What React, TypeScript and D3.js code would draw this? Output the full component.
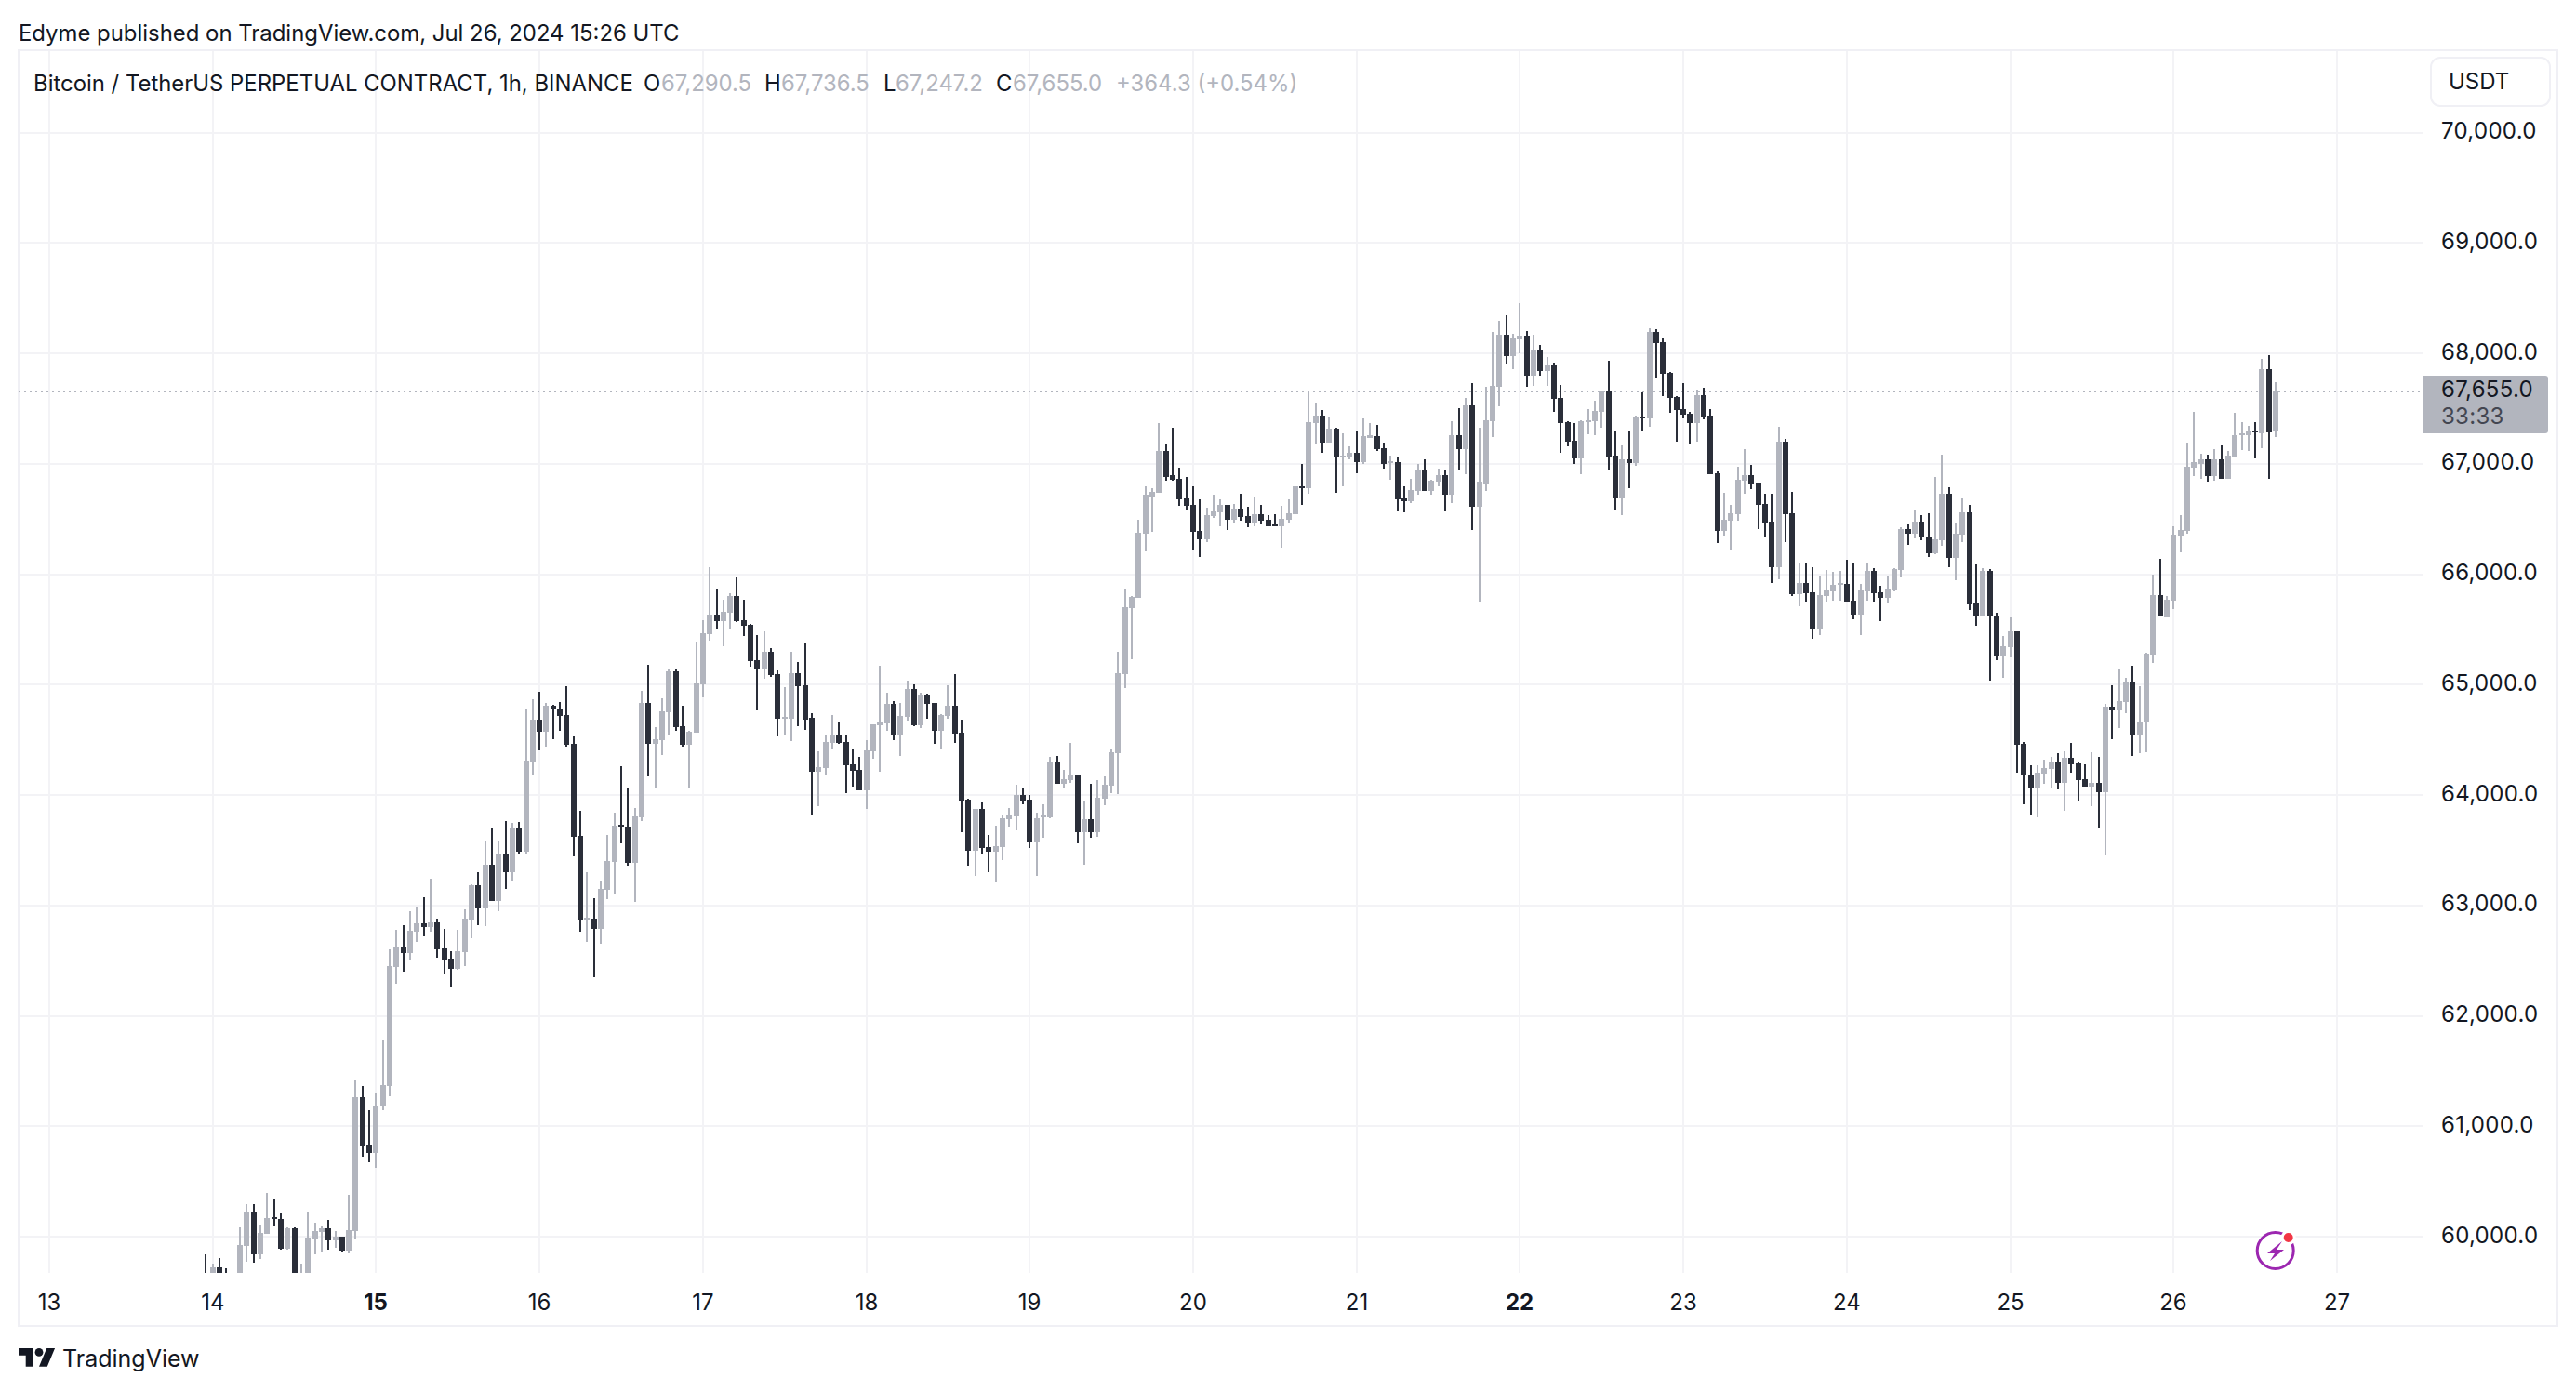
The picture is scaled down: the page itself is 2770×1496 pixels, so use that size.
import React from "react";
import * as d3 from "d3";

const WIDTH = 2770;
const HEIGHT = 1496;
const FONT = "Inter, 'Noto Sans', sans-serif";
const UP = "#b2b5be";
const DOWN = "#2a2e39";
const GRID = "#f3f3f6";
const INK = "#131722";

// hourly candles, first one is Jul 13 23:00 UTC
const firstCandle = Date.UTC(2024, 6, 13, 23);

const opens = [
  59660,59640,59719,59674,59600,59540,59916,60225,59837,60025,
  60174,60157,59888,60073,59520,59650,59980,60039,60073,59969,
  59997,59871,60048,61262,60832,60756,61177,61363,62442,62619,
  62568,62762,62838,62804,62846,62610,62518,62425,62577,62872,
  63184,62973,63367,63039,63460,63300,63696,63485,64302,64680,
  64571,64806,64781,64722,64461,63628,62871,62879,62787,63140,
  63393,63729,63712,63384,63797,64832,64461,64495,64748,65118,
  64621,64453,64562,65000,65454,65637,65578,65654,65806,65587,
  65539,65219,65135,65294,65093,64689,64689,65101,64992,64697,
  64209,64243,64470,64548,64480,64278,64228,64042,64396,64632,
  64649,64826,64540,64708,64961,64632,64910,64835,64582,64717,
  64809,64565,63958,63494,63874,63528,63486,63528,63781,63806,
  64000,63958,63570,63798,63798,64295,64101,64135,64185,63663,
  63781,63663,63966,64084,64379,65096,65694,65789,66371,66708,
  66742,67113,66894,66868,66691,66632,66396,66320,66531,66565,
  66632,66497,66599,66531,66464,66548,66497,66455,66438,66497,
  66548,66801,66776,67366,67433,67189,67315,67062,67062,67096,
  67020,67239,67248,67146,67012,67020,66691,66666,66759,66944,
  66759,66843,66894,66725,67256,67130,67526,66615,66826,67388,
  67700,68172,67978,68130,68163,67801,68037,67843,67894,67599,
  67379,67211,67051,67379,67388,67472,67658,67076,66688,67042,
  67008,67430,67413,68197,68104,67826,67607,67497,67455,67371,
  67624,67438,66916,66393,66486,66545,66848,66899,66831,66638,
  66477,66064,67202,66553,65820,65924,65840,65511,65806,65848,
  65907,65916,65764,65638,65848,66034,65840,65789,65865,66042,
  66413,66371,66481,66346,66194,66312,66733,66152,66362,66565,
  65739,65629,66034,65629,65258,65342,65486,64466,64188,64070,
  64196,64238,64306,64112,64339,64289,64145,64078,64112,64027,
  64803,64769,64845,65031,64542,64664,65270,65813,65606,65765,
  66352,66395,66966,67003,67040,66890,67040,66865,67067,67257,
  67257,67303,67275,67856,67290,
];

const highs = [
  59843,59758,59809,59716,59640,60081,60292,60292,60098,60393,
  60334,60208,60087,60081,59753,60216,60124,60090,60149,60048,
  59997,60377,61413,61363,61144,61295,61784,62602,62779,62821,
  62948,62981,63074,63243,62880,62787,62585,62779,62964,63192,
  63302,63578,63696,63586,63769,63746,63755,64773,64865,64933,
  64832,64815,64840,64983,64529,63855,63300,63065,63224,63637,
  63839,64259,64066,63881,64941,65177,64613,64874,65143,65143,
  64806,64579,65387,65581,66060,65874,65772,65831,65975,65772,
  65553,65452,65486,65328,65126,64975,65294,65202,65379,64739,
  64394,64537,64722,64658,64540,64413,64346,64497,64641,65172,
  64927,64851,64835,65037,65003,64927,64919,64835,64733,64995,
  65096,64683,63966,63874,63933,63638,63722,63823,63882,64093,
  64059,64000,63840,63916,64346,64354,64228,64472,64185,63949,
  64101,64135,64169,64413,65298,65871,65804,66497,66801,66776,
  67366,67180,67324,66969,66885,66801,66683,66607,66725,66683,
  66632,66641,66733,66615,66700,66632,66540,66548,66624,66683,
  66801,67003,67652,67551,67484,67416,67324,67273,67155,67298,
  67408,67366,67349,67197,67079,67062,66801,66868,66995,67045,
  66860,66961,66936,67383,67501,67593,67728,67324,67700,68197,
  68298,68349,68180,68458,68205,68172,68079,67969,67919,67717,
  67388,67371,67396,67497,67573,67658,67936,67295,67169,67295,
  67438,67649,68231,68222,68146,67835,67615,67733,67472,67674,
  67691,67497,66933,66739,66629,66975,67135,66992,66831,66730,
  66730,67337,67228,66747,66101,66110,66067,65992,66042,66025,
  66034,66135,66101,65916,66101,66059,65899,65983,66059,66430,
  66455,66590,66540,66556,66885,67087,66792,66472,66691,66632,
  66093,66059,66051,65654,65444,65612,65486,64483,64272,64272,
  64322,64348,64381,64398,64474,64297,64280,64390,64348,64828,
  64997,65149,65064,65174,64988,65291,65997,66141,65804,66434,
  66535,67193,67471,67092,67083,67135,67168,67116,67462,67376,
  67342,67376,67948,67982,67737,
];

const lows = [
  59500,59600,59660,59500,59420,59480,59772,59764,59795,60022,
  60090,59879,59879,59460,59480,59620,59837,59854,59879,59896,
  59865,59845,59980,60722,60672,60621,61144,61270,62290,62400,
  62501,62669,62720,62762,62526,62374,62265,62417,62450,62703,
  62821,62813,63037,62947,63149,63216,63460,63460,64184,64402,
  64436,64503,64579,64436,63443,62762,62669,62349,62652,63056,
  63107,63561,63359,63031,63763,64167,64066,64360,64545,64579,
  64436,64058,64562,64882,65395,65503,65351,65511,65570,65444,
  65160,64764,65050,65067,64529,64537,64486,64621,64587,63822,
  63898,64184,64411,64464,64017,64076,64042,63874,64329,64211,
  64582,64497,64354,64674,64624,64607,64691,64464,64413,64691,
  64472,63663,63359,63267,63460,63300,63208,63410,63713,63680,
  63916,63519,63267,63612,63789,64101,64059,64110,63562,63368,
  63612,63621,63907,64017,64008,64969,65231,65789,66211,66388,
  66742,66851,66851,66624,66590,66228,66160,66295,66514,66438,
  66405,66472,66489,66430,66438,66455,66438,66438,66244,66472,
  66548,66632,66733,67180,67104,67189,66742,66801,67045,66919,
  67003,67231,67113,66961,66860,66573,66565,66649,66725,66759,
  66717,66801,66573,66649,66944,66910,66405,65756,66756,67244,
  67523,67902,67860,68003,67700,67708,67801,67708,67472,67101,
  67160,67000,66907,67270,67261,67329,66949,66578,66536,66781,
  66983,67295,67337,67784,67615,67464,67202,67413,67177,67202,
  67405,66907,66283,66351,66216,66486,66730,66772,66410,66342,
  65921,65955,66292,65803,65713,65756,65418,65452,65756,65764,
  65764,65756,65595,65452,65764,65756,65578,65739,65848,65975,
  66270,66329,66312,66160,66185,66261,66067,65949,66295,65680,
  65536,65629,65039,65224,65064,65250,64204,63918,63825,63800,
  64103,64070,64053,63859,64204,63951,64078,63901,63707,63454,
  64508,64609,64744,64356,64376,64391,65193,65615,65606,65688,
  66196,66364,66890,66865,66838,66847,66865,66865,67058,67125,
  67116,67049,67141,66865,67247,
];

const closes = [
  59640,59719,59671,59600,59540,59921,60225,59840,60031,60166,
  60160,59888,60073,59520,59650,59989,60048,60073,59963,59997,
  59871,60056,61262,60823,60756,61186,61371,62450,62619,62568,
  62771,62838,62804,62846,62602,62509,62425,62585,62880,63184,
  62973,63369,63039,63460,63300,63696,63485,64310,64680,64571,
  64806,64773,64714,64453,63620,62871,62888,62787,63149,63401,
  63721,63712,63384,63805,64832,64461,64503,64756,65118,64613,
  64453,64571,65008,65463,65631,65578,65663,65806,65578,65536,
  65210,65135,65294,65084,64689,64705,65101,64983,64680,64209,
  64251,64478,64545,64472,64270,64219,64042,64405,64641,64658,
  64826,64540,64717,64961,64632,64910,64826,64582,64725,64809,
  64556,63949,63494,63874,63520,63486,63536,63789,63815,64000,
  63949,63570,63789,63815,64295,64101,64143,64185,63663,63781,
  63663,63975,64093,64388,65104,65703,65796,66379,66717,66750,
  67113,66885,66860,66683,66624,66388,66320,66540,66573,66632,
  66497,66599,66523,66464,66548,66489,66438,66438,66506,66556,
  66801,66776,67374,67433,67189,67315,67054,67079,67096,67020,
  67248,67256,67138,67003,67028,66683,66666,66767,66944,66759,
  66851,66894,66725,67256,67130,67526,66615,66835,67396,67708,
  68172,67978,68138,68163,67801,68037,67843,67894,67590,67371,
  67202,67051,67388,67396,67480,67658,67067,66688,67042,67008,
  67430,67421,68197,68096,67818,67599,67489,67447,67371,67624,
  67430,66907,66393,66494,66553,66857,66899,66823,66629,66469,
  66064,67202,66545,65820,65924,65831,65511,65815,65857,65907,
  65924,65756,65638,65857,66034,65831,65789,65874,66051,66413,
  66371,66481,66337,66194,66320,66733,66152,66371,66565,65730,
  65629,66034,65621,65258,65351,65486,64457,64179,64070,64204,
  64247,64306,64112,64339,64280,64137,64078,64112,64027,64803,
  64769,64854,65031,64542,64670,65278,65813,65615,65771,66361,
  66401,66972,67015,67040,66890,67040,66865,67073,67260,67275,
  67294,67284,67856,67284,67655,
];

const priceTicks = [60000, 61000, 62000, 63000, 64000, 65000, 66000, 67000, 68000, 69000, 70000];
const dayTicks = [13, 14, 15, 16, 17, 18, 19, 20, 21, 22, 23, 24, 25, 26, 27];
const boldDays = [15, 22];
const lastPrice = 67655;
const countdown = "33:33";

const ohlcLegend = [
  { key: "O", value: "67,290.5", keyX: 692, valueX: 711 },
  { key: "H", value: "67,736.5", keyX: 822, valueX: 840 },
  { key: "L", value: "67,247.2", keyX: 950, valueX: 963 },
  { key: "C", value: "67,655.0", keyX: 1071, valueX: 1089 },
];

const App = () => {
  const svgRef = React.useRef<SVGSVGElement>(null);

  React.useEffect(() => {
    const svg = d3.select(svgRef.current);
    svg.selectAll("*").remove();

    const pane = { left: 20, top: 54, right: 2606, bottom: 1369 };
    const frame = { right: 2750, bottom: 1426 };

    const xScale = d3
      .scaleUtc()
      .domain([new Date(Date.UTC(2024, 6, 13)), new Date(Date.UTC(2024, 6, 27))])
      .range([53, 2513]);
    const yScale = d3.scaleLinear().domain([60000, 70000]).range([1330, 142.7]);

    const candles = opens.map((o, i) => ({
      date: new Date(firstCandle + i * 3600000),
      o,
      h: highs[i],
      l: lows[i],
      c: closes[i],
    }));

    svg
      .append("defs")
      .append("clipPath")
      .attr("id", "pane")
      .append("rect")
      .attr("x", pane.left)
      .attr("y", pane.top)
      .attr("width", pane.right - pane.left)
      .attr("height", pane.bottom - pane.top);

    svg.append("rect").attr("width", WIDTH).attr("height", HEIGHT).attr("fill", "#fff");

    // grid
    const grid = svg.append("g").attr("fill", GRID);
    grid
      .selectAll(".v")
      .data(dayTicks)
      .join("rect")
      .attr("x", (d) => Math.round(xScale(new Date(Date.UTC(2024, 6, d)))) - 1)
      .attr("y", pane.top)
      .attr("width", 2)
      .attr("height", pane.bottom - pane.top);
    grid
      .selectAll(".h")
      .data(priceTicks)
      .join("rect")
      .attr("x", pane.left)
      .attr("y", (d) => Math.round(yScale(d)) - 1)
      .attr("width", pane.right - pane.left)
      .attr("height", 2);

    // frame
    svg
      .append("rect")
      .attr("x", pane.left)
      .attr("y", pane.top)
      .attr("width", frame.right - pane.left)
      .attr("height", frame.bottom - pane.top)
      .attr("fill", "none")
      .attr("stroke", "#f0f0f5")
      .attr("stroke-width", 2);

    // last price line
    svg
      .append("line")
      .attr("x1", pane.left)
      .attr("x2", pane.right)
      .attr("y1", Math.round(yScale(lastPrice)))
      .attr("y2", Math.round(yScale(lastPrice)))
      .attr("stroke", UP)
      .attr("stroke-width", 2)
      .attr("stroke-dasharray", "2 4");

    // candles
    const candleG = svg
      .append("g")
      .attr("clip-path", "url(#pane)")
      .selectAll("g")
      .data(candles)
      .join("g")
      .attr("fill", (d) => (d.c >= d.o ? UP : DOWN));
    candleG
      .append("rect")
      .attr("x", (d) => Math.round(xScale(d.date)) - 1)
      .attr("width", 2)
      .attr("y", (d) => Math.round(yScale(d.h)))
      .attr("height", (d) => Math.max(1, Math.round(yScale(d.l)) - Math.round(yScale(d.h))));
    candleG
      .append("rect")
      .attr("x", (d) => Math.round(xScale(d.date)) - 3)
      .attr("width", 6)
      .attr("y", (d) => Math.round(yScale(Math.max(d.o, d.c))))
      .attr("height", (d) =>
        Math.max(2, Math.round(yScale(Math.min(d.o, d.c))) - Math.round(yScale(Math.max(d.o, d.c))))
      );

    const text = (x: number, y: number, s: string, size: number, fill = INK) =>
      svg
        .append("text")
        .attr("x", x)
        .attr("y", y)
        .attr("font-family", FONT)
        .attr("font-size", size)
        .attr("fill", fill)
        .attr("dominant-baseline", "central")
        .text(s);

    // header + legend
    text(20, 35, "Edyme published on TradingView.com, Jul 26, 2024 15:26 UTC", 23.9);
    text(36, 89, "Bitcoin / TetherUS PERPETUAL CONTRACT, 1h, BINANCE", 23.9);
    ohlcLegend.forEach((d) => {
      text(d.keyX, 89, d.key, 23.9);
      text(d.valueX, 89, d.value, 23.9, UP);
    });
    text(1200, 89, "+364.3 (+0.54%)", 23.9, UP);

    // price axis
    priceTicks.forEach((d) =>
      text(2625, yScale(d) - 2, d3.format(",.1f")(d), 24).attr("letter-spacing", 0.3)
    );

    // last price tag
    svg
      .append("path")
      .attr("d", "M2606 404H2737a3 3 0 0 1 3 3V463a3 3 0 0 1 -3 3H2606Z")
      .attr("fill", UP);
    text(2625, 418, d3.format(",.1f")(lastPrice), 24).attr("letter-spacing", 0.3);
    text(2625, 447, countdown, 24, "#434651").attr("letter-spacing", 0.3);

    // currency button
    svg
      .append("rect")
      .attr("x", 2614)
      .attr("y", 62)
      .attr("width", 128)
      .attr("height", 52)
      .attr("rx", 10)
      .attr("fill", "#fff")
      .attr("stroke", "#f0f0f5")
      .attr("stroke-width", 2);
    text(2633, 87, "USDT", 24);

    // time axis
    dayTicks.forEach((d) =>
      text(Math.round(xScale(new Date(Date.UTC(2024, 6, d)))), 1400.5, String(d), 24)
        .attr("text-anchor", "middle")
        .attr("font-weight", boldDays.includes(d) ? 700 : 400)
    );

    // alert icon
    const icon = svg.append("g");
    icon
      .append("circle")
      .attr("cx", 2446.7)
      .attr("cy", 1345)
      .attr("r", 19.5)
      .attr("fill", "#fff")
      .attr("stroke", "#9c27b0")
      .attr("stroke-width", 3);
    icon
      .append("path")
      .attr("d", "M2454 1335L2438 1348H2446L2441 1356L2456 1344H2448Z")
      .attr("fill", "#9c27b0");
    icon
      .append("circle")
      .attr("cx", 2460.7)
      .attr("cy", 1331)
      .attr("r", 6.5)
      .attr("fill", "#f23645")
      .attr("stroke", "#fff")
      .attr("stroke-width", 3);

    // logo
    const logo = svg.append("g").attr("transform", "translate(20,1445.6) scale(1.1)").attr("fill", INK);
    logo.append("path").attr("d", "M14 22H7V11H0V4h14v18zM28 22h-8l7.5-18h8L28 22z");
    logo.append("circle").attr("cx", 20).attr("cy", 8).attr("r", 4);
    text(67, 1461, "TradingView", 25);
  }, []);

  return (
    <svg
      ref={svgRef}
      width={WIDTH}
      height={HEIGHT}
      style={{ position: "absolute", left: 0, top: 0, display: "block" }}
    />
  );
};

export default App;
